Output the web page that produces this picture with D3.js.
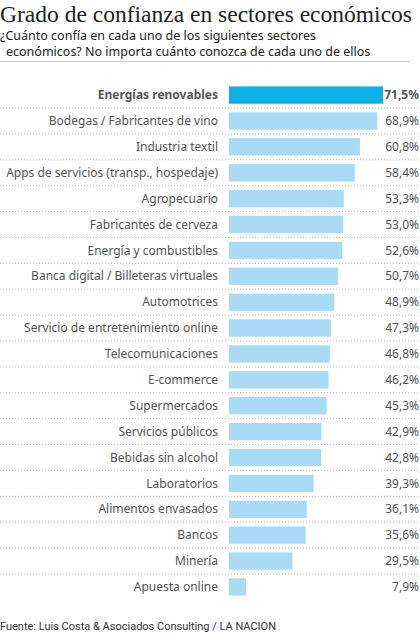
<!DOCTYPE html>
<html><head><meta charset="utf-8">
<script src="https://cdn.jsdelivr.net/npm/d3@7"></script>
<style>body{margin:0;background:#fff}</style>
</head><body><div id="chart"></div>
<script>
var sectors = ["Energías renovables","Bodegas / Fabricantes de vino","Industria textil","Apps de servicios (transp., hospedaje)","Agropecuario","Fabricantes de cerveza","Energía y combustibles","Banca digital / Billeteras virtuales","Automotrices","Servicio de entretenimiento online","Telecomunicaciones","E-commerce","Supermercados","Servicios públicos","Bebidas sin alcohol","Laboratorios","Alimentos envasados","Bancos","Minería","Apuesta online"];
var values = [71.5,68.9,60.8,58.4,53.3,53.0,52.6,50.7,48.9,47.3,46.8,46.2,45.3,42.9,42.8,39.3,36.1,35.6,29.5,7.9];

var w = 420, h = 633;
var svg = d3.select("#chart").append("svg").attr("width", w).attr("height", h);

svg.append("text").attr("x", 0).attr("y", 22)
    .style("font-family", "Liberation Serif, serif").style("font-size", "22.5px").attr("fill", "#222")
    .attr("textLength", 412).attr("lengthAdjust", "spacingAndGlyphs")
    .text("Grado de confianza en sectores económicos");
svg.append("text").attr("x", 0).attr("y", 40)
    .style("font-family", "Noto Sans").style("font-size", "12.5px").attr("fill", "#222")
    .text("¿Cuánto confía en cada uno de los siguientes sectores");
svg.append("text").attr("x", 6).attr("y", 56)
    .style("font-family", "Noto Sans").style("font-size", "12.5px").attr("fill", "#222")
    .text("económicos? No importa cuánto conozca de cada uno de ellos");
svg.append("line").attr("x1", 0).attr("x2", 410).attr("y1", 61.5).attr("y2", 61.5)
    .attr("stroke", "#ccc");

var x = d3.scaleLinear().domain([0, 71.5]).range([229, 383]);
var y = d3.scaleBand().domain(sectors).range([82, 600]).paddingInner(0.33).paddingOuter(0.17);
var step = y.step();

var rows = svg.selectAll("g.row").data(sectors).enter().append("g").attr("class", "row");

rows.filter(function(d, i) { return i < sectors.length - 1; })
    .append("line")
    .attr("x1", 0).attr("x2", 420)
    .attr("y1", function(d) { return y(d) + y.bandwidth() + (step - y.bandwidth()) / 2; })
    .attr("y2", function(d) { return y(d) + y.bandwidth() + (step - y.bandwidth()) / 2; })
    .attr("stroke", "#bbb").attr("stroke-dasharray", "1,2");

rows.append("rect")
    .attr("x", x(0))
    .attr("y", function(d) { return y(d); })
    .attr("height", y.bandwidth())
    .attr("width", function(d, i) { return x(values[i]) - x(0); })
    .attr("fill", function(d, i) { return i === 0 ? "#0db1e8" : "#a9dbf6"; });

rows.append("text")
    .attr("x", 218)
    .attr("y", function(d) { return y(d) + y.bandwidth() / 2; })
    .attr("dy", "0.35em").attr("text-anchor", "end")
    .style("font-family", "Noto Sans").style("font-size", "12px")
    .style("font-weight", function(d, i) { return i === 0 ? "bold" : "normal"; })
    .attr("fill", "#555")
    .text(function(d) { return d; });

rows.append("text")
    .attr("x", 419)
    .attr("y", function(d) { return y(d) + y.bandwidth() / 2; })
    .attr("dy", "0.35em").attr("text-anchor", "end")
    .style("font-family", "Noto Sans").style("font-size", "12px")
    .style("font-weight", function(d, i) { return i === 0 ? "bold" : "normal"; })
    .attr("fill", "#555")
    .text(function(d, i) { return values[i].toFixed(1).replace(".", ",") + "%"; });

svg.append("text").attr("x", 0).attr("y", 630)
    .style("font-family", "Liberation Sans Narrow, Roboto, sans-serif").style("font-size", "11px")
    .attr("fill", "#333")
    .text("Fuente: Luis Costa & Asociados Consulting / LA NACION");
</script></body></html>
